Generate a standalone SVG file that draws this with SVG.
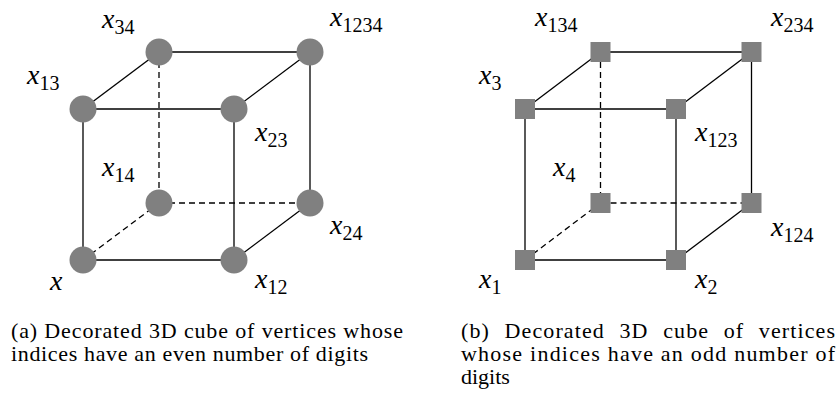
<svg xmlns="http://www.w3.org/2000/svg" width="837" height="400" viewBox="0 0 837 400">
<style>
.e{stroke:#000;stroke-width:1.3;fill:none}
.d{stroke:#000;stroke-width:1.3;fill:none;stroke-dasharray:6 4}
.n{fill:#808080}
.l{font-size:28px;font-style:italic;fill:#000}
.s{font-size:20px;font-style:normal}
.c{font-size:22px;fill:#000}
</style>
<rect width="837" height="400" fill="#fff"/>
<g id="connectors-a">
<line class="e" x1="83" y1="109" x2="234" y2="109"/>
<line class="e" x1="234" y1="109" x2="234" y2="260"/>
<line class="e" x1="83" y1="260" x2="234" y2="260"/>
<line class="e" x1="83" y1="109" x2="83" y2="260"/>
<line class="e" x1="159" y1="52" x2="310" y2="52"/>
<line class="e" x1="310" y1="52" x2="310" y2="203"/>
<line class="d" x1="159" y1="52" x2="159" y2="203"/>
<line class="d" x1="159" y1="203" x2="310" y2="203"/>
<line class="e" x1="83" y1="109" x2="159" y2="52"/>
<line class="e" x1="234" y1="109" x2="310" y2="52"/>
<line class="e" x1="234" y1="260" x2="310" y2="203"/>
<line class="d" x1="83" y1="260" x2="159" y2="203"/>
</g>
<g id="connectors-b">
<line class="e" x1="525" y1="109" x2="676" y2="109"/>
<line class="e" x1="676" y1="109" x2="676" y2="260"/>
<line class="e" x1="525" y1="260" x2="676" y2="260"/>
<line class="e" x1="525" y1="109" x2="525" y2="260"/>
<line class="e" x1="600.5" y1="52" x2="751.5" y2="52"/>
<line class="e" x1="751.5" y1="52" x2="751.5" y2="203"/>
<line class="d" x1="600.5" y1="52" x2="600.5" y2="203"/>
<line class="d" x1="600.5" y1="203" x2="751.5" y2="203"/>
<line class="e" x1="525" y1="109" x2="600.5" y2="52"/>
<line class="e" x1="676" y1="109" x2="751.5" y2="52"/>
<line class="e" x1="676" y1="260" x2="751.5" y2="203"/>
<line class="d" x1="525" y1="260" x2="600.5" y2="203"/>
</g>
<g font-family="Liberation Serif, Tinos, Times New Roman, Noto Serif, DejaVu Serif, serif">
<g id="a-x"><circle class="n" cx="83" cy="260" r="13.5"/><text class="l" x="50" y="290">x</text></g>
<g id="a-x12"><circle class="n" cx="234" cy="260" r="13.5"/><text class="l" x="255" y="288">x<tspan class="s" dy="6">12</tspan></text></g>
<g id="a-x13"><circle class="n" cx="83" cy="109" r="13.5"/><text class="l" x="27" y="84">x<tspan class="s" dy="6">13</tspan></text></g>
<g id="a-x23"><circle class="n" cx="234" cy="109" r="13.5"/><text class="l" x="255" y="141">x<tspan class="s" dy="6">23</tspan></text></g>
<g id="a-x34"><circle class="n" cx="159" cy="52" r="13.5"/><text class="l" x="102" y="28">x<tspan class="s" dy="6">34</tspan></text></g>
<g id="a-x1234"><circle class="n" cx="310" cy="52" r="13.5"/><text class="l" x="330" y="26">x<tspan class="s" dy="6">1234</tspan></text></g>
<g id="a-x14"><circle class="n" cx="159" cy="203" r="13.5"/><text class="l" x="102" y="176">x<tspan class="s" dy="6">14</tspan></text></g>
<g id="a-x24"><circle class="n" cx="310" cy="203" r="13.5"/><text class="l" x="330" y="234">x<tspan class="s" dy="6">24</tspan></text></g>
<g id="b-x1"><rect class="n" x="515" y="250" width="20" height="20"/><text class="l" x="479" y="288">x<tspan class="s" dy="6">1</tspan></text></g>
<g id="b-x2"><rect class="n" x="666" y="250" width="20" height="20"/><text class="l" x="695" y="288">x<tspan class="s" dy="6">2</tspan></text></g>
<g id="b-x3"><rect class="n" x="515" y="99" width="20" height="20"/><text class="l" x="479" y="84">x<tspan class="s" dy="6">3</tspan></text></g>
<g id="b-x123"><rect class="n" x="666" y="99" width="20" height="20"/><text class="l" x="695" y="141">x<tspan class="s" dy="6">123</tspan></text></g>
<g id="b-x134"><rect class="n" x="590.5" y="42" width="20" height="20"/><text class="l" x="535" y="26">x<tspan class="s" dy="6">134</tspan></text></g>
<g id="b-x234"><rect class="n" x="741.5" y="42" width="20" height="20"/><text class="l" x="771" y="26">x<tspan class="s" dy="6">234</tspan></text></g>
<g id="b-x4"><rect class="n" x="590.5" y="193" width="20" height="20"/><text class="l" x="553" y="176">x<tspan class="s" dy="6">4</tspan></text></g>
<g id="b-x124"><rect class="n" x="741.5" y="193" width="20" height="20"/><text class="l" x="771" y="236">x<tspan class="s" dy="6">124</tspan></text></g>
<g id="captions">
<text class="c" x="11" y="338" textLength="392" lengthAdjust="spacing">(a) Decorated 3D cube of vertices whose</text>
<text class="c" x="11" y="361" textLength="357" lengthAdjust="spacing">indices have an even number of digits</text>
<text class="c" x="461" y="338" textLength="374" lengthAdjust="spacing" word-spacing="8">(b) Decorated 3D cube of vertices</text>
<text class="c" x="461" y="361" textLength="374" lengthAdjust="spacing">whose indices have an odd number of</text>
<text class="c" x="461" y="384">digits</text>
</g>
</g>
</svg>
